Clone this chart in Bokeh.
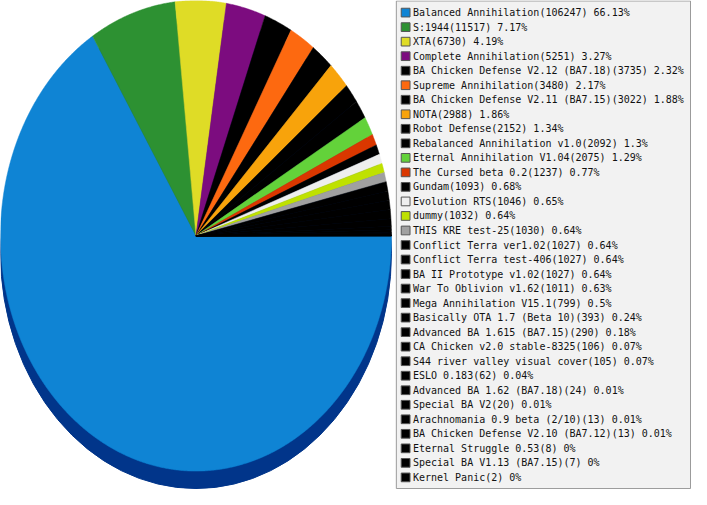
import numpy as np
from bokeh.plotting import figure
from bokeh.models import Range1d
from bokeh.core.properties import value
from bokeh.embed import file_html
from bokeh.resources import INLINE

names = ["Balanced Annihilation", "S:1944", "XTA", "Complete Annihilation",
         "BA Chicken Defense V2.12 (BA7.18)", "Supreme Annihilation",
         "BA Chicken Defense V2.11 (BA7.15)", "NOTA", "Robot Defense",
         "Rebalanced Annihilation v1.0", "Eternal Annihilation V1.04",
         "The Cursed beta 0.2", "Gundam", "Evolution RTS", "dummy",
         "THIS KRE test-25", "Conflict Terra ver1.02", "Conflict Terra test-406",
         "BA II Prototype v1.02", "War To Oblivion v1.62", "Mega Annihilation V15.1",
         "Basically OTA 1.7 (Beta 10)", "Advanced BA 1.615 (BA7.15)",
         "CA Chicken v2.0 stable-8325", "S44 river valley visual cover",
         "ESLO 0.183", "Advanced BA 1.62 (BA7.18)", "Special BA V2",
         "Arachnomania 0.9 beta (2/10)", "BA Chicken Defense V2.10 (BA7.12)",
         "Eternal Struggle 0.53", "Special BA V1.13 (BA7.15)", "Kernel Panic"]
counts = [106247, 11517, 6730, 5251, 3735, 3480, 3022, 2988, 2152, 2092, 2075,
          1237, 1093, 1046, 1032, 1030, 1027, 1027, 1027, 1011, 799, 393, 290,
          106, 105, 62, 24, 20, 13, 13, 8, 7, 2]
percents = ["66.13", "7.17", "4.19", "3.27", "2.32", "2.17", "1.88", "1.86", "1.34",
            "1.3", "1.29", "0.77", "0.68", "0.65", "0.64", "0.64", "0.64", "0.64",
            "0.64", "0.63", "0.5", "0.24", "0.18", "0.07", "0.07", "0.04", "0.01",
            "0.01", "0.01", "0.01", "0", "0", "0"]
colors = ["#0f84d4", "#2d9132", "#dfdc26", "#7c0c7f", "#000000", "#fd6910",
          "#000000", "#f8a30b", "#000000", "#000000", "#63d23a", "#da3700",
          "#000000", "#eeeeee", "#bfe100", "#a0a0a0"] + ["#000000"] * 17

# layout in reference pixel space (y down)
CX, CY, RX, RY, DEPTH = 200.0, 243.0, 200.0, 243.0, 18.0

p = figure(width=691, height=489, x_range=Range1d(0, 707), y_range=Range1d(505, 0),
           output_backend="svg", toolbar_location=None, min_border=0,
           x_axis_location=None, y_axis_location=None)
p.grid.visible = False
p.outline_line_color = None
p.background_fill_color = "white"

# 3D depth under the pie
p.ellipse(x=CX, y=CY + DEPTH, width=2 * RX, height=2 * RY,
          fill_color="#01358a", line_color="#01358a")

vals = np.array(counts, dtype=float)
frac = vals / vals.sum()
ends = np.cumsum(frac) * 2 * np.pi
starts = ends - frac * 2 * np.pi
xs, ys = [], []
for a0, a1 in zip(starts, ends):
    n = max(3, int((a1 - a0) * 200))
    t = np.linspace(a0, a1, n)
    xs.append(np.concatenate([[CX], CX + RX * np.cos(t)]))
    ys.append(np.concatenate([[CY], CY + RY * np.sin(t)]))
p.patches(xs, ys, fill_color=colors, line_color=colors, line_width=0.5)

# legend
p.quad(left=405, right=706, top=0.5, bottom=504, fill_color="#f2f2f2", line_color="#9a9a9a")
row_y = [12.5 + 15 * i for i in range(len(names))]
labels = [f"{n}({c}) {pc}%" for n, c, pc in zip(names, counts, percents)]
p.rect(x=[414.5] * len(names), y=row_y, width=9, height=9,
       fill_color=colors, line_color="#555555", line_width=1)
p.text(x=[422] * len(names), y=row_y, text=labels,
       text_font=value("DejaVu Sans Mono"), text_font_size="10px",
       text_baseline="middle", text_align="left", text_color="#111111")

open("out.html", "w").write(file_html(p, INLINE))
